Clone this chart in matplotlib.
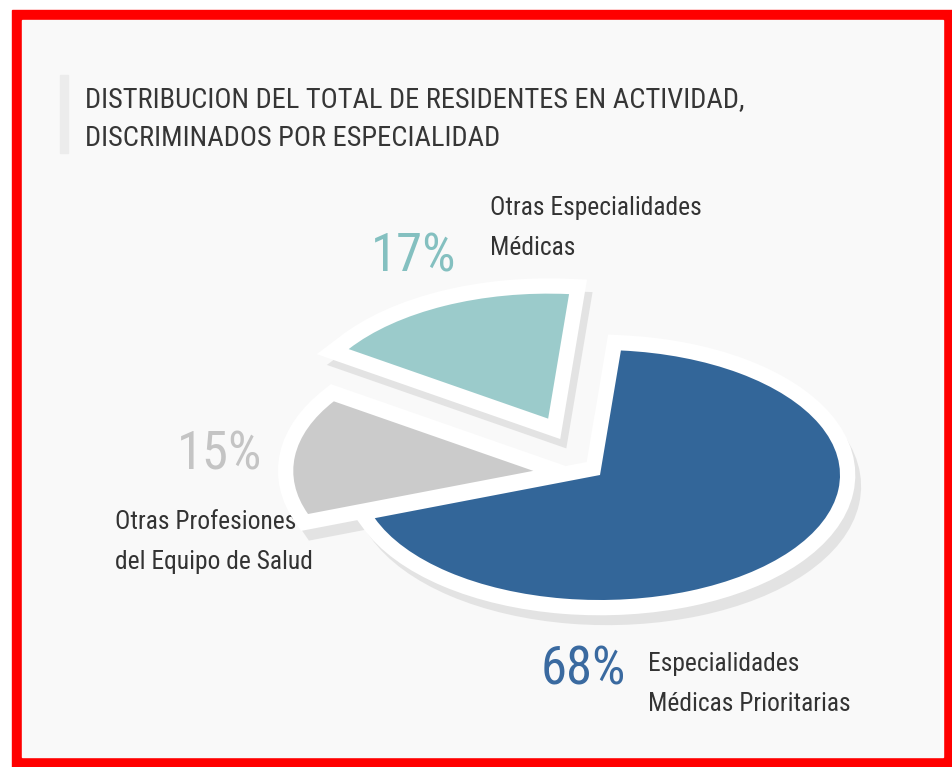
import matplotlib
matplotlib.use('Agg')
import matplotlib.pyplot as plt
from matplotlib import font_manager
from matplotlib.patches import Rectangle

# data
labels = ['Otras Especialidades\nMédicas', 'Otras Profesiones\ndel Equipo de Salud',
          'Especialidades\nMédicas Prioritarias']
values = [17, 15, 68]
colors = ['#9bcbcb', '#cbcbcb', '#336699']
pct_colors = ['#84c0c0', '#c4c4c4', '#3a6aa0']
explode = [0.5, 0.28, 0]
title = 'DISTRIBUCION DEL TOTAL DE RESIDENTES EN ACTIVIDAD,\nDISCRIMINADOS POR ESPECIALIDAD'

W, H = 953, 767

# pick a narrow font if there is one
names = {f.name for f in font_manager.fontManager.ttflist}
fam = 'DejaVu Sans'
for cand in ['Roboto Condensed', 'Liberation Sans Narrow', 'Open Sans Condensed', 'DejaVu Sans']:
    if cand in names:
        fam = cand
        break
font = dict(family=fam, stretch='condensed')

fig = plt.figure(figsize=(W / 100, H / 100), dpi=100)
fig.patch.set_facecolor('white')

# background axes in pixel coords (y from top)
bg = fig.add_axes([0, 0, 1, 1])
bg.set_xlim(0, W)
bg.set_ylim(H, 0)
bg.axis('off')
bg.add_patch(Rectangle((12, 10), W - 12, H - 10, color='#ff0000', zorder=0))
bg.add_patch(Rectangle((22, 20), W - 32, H - 30, color='#f9f9f9', zorder=1))
bg.add_patch(Rectangle((60, 75), 8, 78, color='#ececec', zorder=2))

bg.text(85, 119, title, fontsize=20.5, color='#363636', va='center', ha='left',
        linespacing=1.6, zorder=3, **font)

# pie axes: unit radius = 240 px wide, 125 px tall
cx, cy, rx, ry = 600, 475, 240, 125
ax = fig.add_axes([0, 0, 1, 1])
ax.patch.set_alpha(0)
start = 85
shadow, _ = ax.pie(values, explode=explode, startangle=start, center=(0.03, -0.09),
                   colors=['#dedede'] * 3,
                   wedgeprops=dict(edgecolor='#dedede', linewidth=20))
rim, _ = ax.pie(values, explode=explode, startangle=start, colors=['white'] * 3,
                wedgeprops=dict(edgecolor='white', linewidth=22))
wedges, _ = ax.pie(values, explode=explode, startangle=start, colors=colors,
                   wedgeprops=dict(linewidth=0))
for w in shadow:
    w.set_alpha(0.8)
ax.set_aspect('auto')
ax.set_xlim(-cx / rx, (W - cx) / rx)
ax.set_ylim(-(H - cy) / ry, cy / ry)
ax.axis('off')

# percentages and labels (pixel coords)
pct_pos = [(414, 257), (220, 455), (583, 670)]
lab_pos = [(490, 228), (115, 542), (648, 684)]
for i in range(len(values)):
    bg.text(pct_pos[i][0], pct_pos[i][1], '%d%%' % values[i], fontsize=38,
            color=pct_colors[i], ha='center', va='center', fontweight='normal',
            zorder=5, **font)
    bg.text(lab_pos[i][0], lab_pos[i][1], labels[i], fontsize=18.4, color='#333333',
            ha='left', va='center', linespacing=1.85, zorder=5, **font)

fig.savefig('out.png', dpi=100, facecolor=fig.get_facecolor())
